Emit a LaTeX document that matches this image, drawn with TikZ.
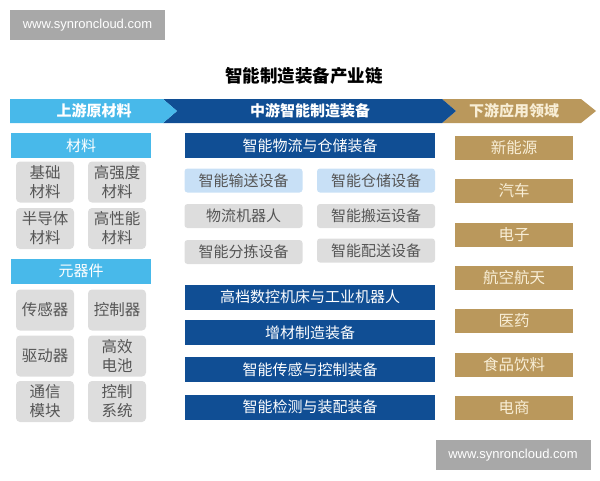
\documentclass[tikz,border=0pt]{standalone}
\usepackage{fontspec}
\setmainfont{Liberation Sans}
\newfontfamily\cjk{Noto Sans CJK SC}
\usepackage{tikz}
\usetikzlibrary{shapes}
\usepackage{xcolor}
\definecolor{skyblue}{RGB}{72,185,234}
\definecolor{navy}{RGB}{16,78,148}
\definecolor{gold}{RGB}{186,152,92}
\definecolor{cream}{RGB}{248,238,214}
\definecolor{pale}{RGB}{200,224,246}
\definecolor{boxgray}{RGB}{221,221,221}
\definecolor{txtgray}{RGB}{85,85,85}
\definecolor{wmgray}{RGB}{168,168,168}

\begin{document}
\begin{tikzpicture}[x=1pt,y=-1pt,
    wmbox/.style={fill=wmgray,text=white,minimum width=155,minimum height=30,font=\fontsize{13}{14}\selectfont},
    bartext/.style={font=\cjk\bfseries\fontsize{15}{16}\selectfont},
    skyhead/.style={fill=skyblue,text=white,minimum width=140,minimum height=25,font=\cjk\fontsize{15}{16}\selectfont},
    graybox/.style={fill=boxgray,text=txtgray,rounded corners=4pt,align=center,minimum width=58,minimum height=41,inner sep=1pt,font=\cjk\fontsize{15.5}{19}\selectfont},
    navybox/.style={fill=navy,text=white,minimum width=250,minimum height=25,font=\cjk\fontsize{15}{16}\selectfont},
    subbox/.style={fill=#1,text=txtgray,rounded corners=3pt,minimum width=118,minimum height=24,font=\cjk\fontsize{15}{16}\selectfont},
    goldbox/.style={fill=gold,text=cream,minimum width=118,minimum height=24,font=\cjk\fontsize{15.5}{16}\selectfont}]
    \useasboundingbox (0,0) rectangle (600,480);
    %Watermarks
    \node[wmbox] (wmtop) at (87.5,25) {www.synroncloud.com};
    \node[wmbox] (wmbottom) at (513,455) {www.synroncloud.com};
    %Title
    \node[font=\cjk\bfseries\fontsize{17.5}{18}\selectfont] (title) at (304,76) {智能制造装备产业链};
    %Chain banner
    \fill[gold] (442,99) -- (581,99) -- (596,111) -- (581,123) -- (442,123) -- (456,111) -- cycle;
    \fill[navy] (163,99) -- (442,99) -- (456,111) -- (442,123) -- (163,123) -- (177,111) -- cycle;
    \fill[skyblue] (10,99) -- (163,99) -- (177,111) -- (163,123) -- (10,123) -- cycle;
    \node[bartext,text=white] (upstream) at (94,111) {上游原材料};
    \node[bartext,text=white] (midstream) at (310,111) {中游智能制造装备};
    \node[bartext,text=cream] (downstream) at (514,111) {下游应用领域};
    %Upstream
    \node[skyhead] (materials) at (81,145.5) {材料};
    \node[graybox] (basic) at (45,182) {基础\\材料};
    \node[graybox] (strength) at (117,182) {高强度\\材料};
    \node[graybox] (semi) at (45,228.5) {半导体\\材料};
    \node[graybox] (perf) at (117,228.5) {高性能\\材料};
    \node[skyhead] (parts) at (81,271) {元器件};
    \node[graybox] (sensor) at (45,310) {传感器};
    \node[graybox] (controller) at (117,310) {控制器};
    \node[graybox] (driver) at (45,356) {驱动器};
    \node[graybox] (battery) at (117,356) {高效\\电池};
    \node[graybox] (comm) at (45,401.5) {通信\\模块};
    \node[graybox] (ctrlsys) at (117,401.5) {控制\\系统};
    %Midstream
    \node[navybox] (logistics) at (310,145.5) {智能物流与仓储装备};
    \node[subbox=pale] (convey) at (243.5,180.5) {智能输送设备};
    \node[subbox=pale] (storage) at (376,180.5) {智能仓储设备};
    \node[subbox=boxgray] (robot) at (243.5,216) {物流机器人};
    \node[subbox=boxgray] (handling) at (376,216) {智能搬运设备};
    \node[subbox=boxgray] (sorting) at (243.5,252) {智能分拣设备};
    \node[subbox=boxgray] (delivery) at (376,250.5) {智能配送设备};
    \node[navybox] (cnc) at (310,297) {高档数控机床与工业机器人};
    \node[navybox] (additive) at (310,332.5) {增材制造装备};
    \node[navybox] (sensing) at (310,369.5) {智能传感与控制装备};
    \node[navybox] (testing) at (310,407) {智能检测与装配装备};
    %Downstream
    \node[goldbox] (energy) at (514,148) {新能源};
    \node[goldbox] (auto) at (514,191) {汽车};
    \node[goldbox] (electronics) at (514,234.5) {电子};
    \node[goldbox] (aerospace) at (514,278) {航空航天};
    \node[goldbox] (medicine) at (514,321) {医药};
    \node[goldbox] (food) at (514,364.5) {食品饮料};
    \node[goldbox] (ecommerce) at (514,408) {电商};
\end{tikzpicture}
\end{document}
